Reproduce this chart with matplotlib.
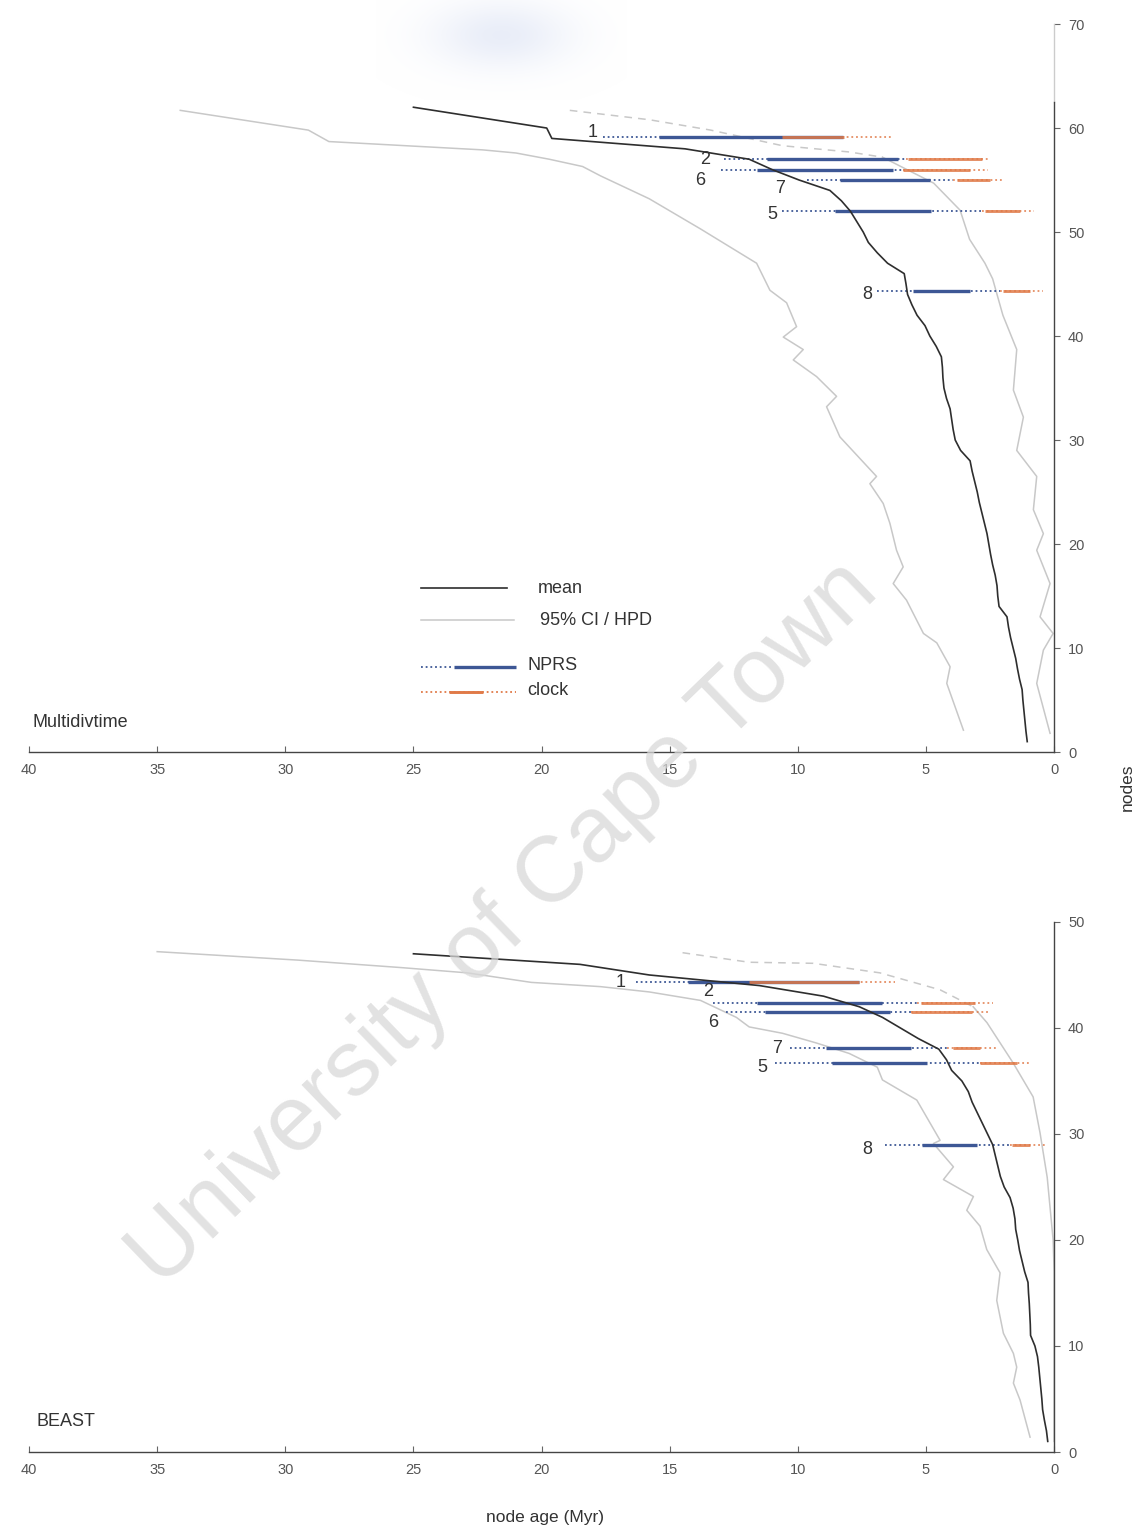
import matplotlib
matplotlib.use("Agg")
import matplotlib.pyplot as plt
import numpy as np

plt.rcParams["font.family"] = ["Liberation Sans", "DejaVu Sans"]

# mean node age (Myr) for node rank 1..N
mean_top = [1.05, 1.10, 1.14, 1.18, 1.22, 1.25, 1.35, 1.43, 1.50, 1.60,
            1.70, 1.78, 1.84, 2.15, 2.20, 2.23, 2.30, 2.40, 2.48, 2.55,
            2.62, 2.72, 2.82, 2.92, 3.00, 3.10, 3.20, 3.28, 3.65, 3.86,
            3.94, 4.00, 4.06, 4.20, 4.30, 4.34, 4.36, 4.40, 4.60, 4.85,
            5.04, 5.35, 5.55, 5.72, 5.78, 5.85, 6.50, 6.90, 7.25, 7.45,
            7.70, 7.95, 8.30, 8.75, 9.95, 11.0, 11.9, 14.4, 19.6, 19.8,
            22.4, 25.0]
mean_bot = [0.25, 0.30, 0.38, 0.45, 0.48, 0.52, 0.56, 0.60, 0.65, 0.75,
            0.92, 0.93, 0.95, 0.97, 1.00, 1.02, 1.15, 1.25, 1.35, 1.42,
            1.50, 1.53, 1.60, 1.72, 1.95, 2.10, 2.20, 2.30, 2.40, 2.60,
            2.80, 3.00, 3.20, 3.35, 3.60, 4.00, 4.20, 4.50, 5.30, 6.00,
            6.70, 7.60, 9.00, 11.5, 15.8, 18.5, 25.0]

# 95% CI / HPD bounds as (age, node) vertices
ci_old_top_age = [34.1, 29.1, 28.3, 22.3, 21.0, 19.7, 18.4, 17.7, 15.8, 13.8,
                  11.61, 11.09, 10.44, 10.05, 10.57, 9.79, 10.18, 9.27, 8.49, 8.88,
                  8.36, 6.93, 7.19, 6.67, 6.41, 6.15, 5.89, 6.28, 5.76, 5.10,
                  4.58, 4.06, 4.19, 3.54]
ci_old_top_node = [61.7, 59.8, 58.7, 57.9, 57.6, 57.0, 56.3, 55.4, 53.2, 50.3,
                   47.0, 44.4, 43.2, 40.9, 39.9, 38.7, 37.7, 36.1, 34.2, 33.2,
                   30.3, 26.5, 25.8, 23.9, 22.0, 19.4, 17.8, 16.2, 14.6, 11.4,
                   10.5, 8.2, 6.6, 2.1]
ci_young_top_age = [18.9, 15.8, 13.4, 10.6, 8.0, 6.7, 4.7, 3.67, 3.3, 2.7,
                    2.4, 2.0, 1.46, 1.59, 1.2, 1.46, 0.68, 0.81, 0.42, 0.68,
                    0.16, 0.55, 0.04, 0.42, 0.68, 0.16]
ci_young_top_node = [61.7, 60.8, 59.8, 58.3, 57.7, 57.2, 54.7, 52.1, 49.3, 47.0,
                     45.5, 42.0, 38.7, 34.8, 32.2, 29.0, 26.5, 23.3, 21.0, 19.4,
                     16.2, 13.0, 11.4, 9.8, 6.6, 1.8]
ci_old_bot_age = [35.0, 29.5, 25.5, 22.9, 20.4, 17.7, 15.8, 13.8, 12.4, 11.9,
                  10.6, 9.3, 8.0, 6.9, 6.7, 5.36, 4.45, 4.71, 3.93, 4.32,
                  3.15, 3.41, 2.89, 2.63, 2.11, 2.24, 1.98, 1.59, 1.46, 1.59,
                  1.33, 0.94]
ci_old_bot_node = [47.2, 46.4, 45.7, 45.2, 44.3, 43.9, 43.4, 42.6, 41.0, 40.1,
                   39.5, 38.6, 37.6, 36.3, 35.1, 33.2, 29.4, 29.1, 26.9, 25.7,
                   24.1, 22.8, 21.3, 19.1, 16.9, 14.3, 11.2, 9.3, 8.0, 6.5,
                   4.9, 1.4]
ci_young_bot_age = [14.5, 11.9, 9.4, 6.8, 4.45, 3.16, 2.62, 1.6, 0.82, 0.55,
                    0.27, 0.04, 0.0, 0.0]
ci_young_bot_node = [47.1, 46.2, 46.1, 45.2, 43.6, 42.0, 40.5, 36.7, 33.5, 30.1,
                     25.9, 20.0, 17.0, 1.0]
n_dashed_top = 6   # leading vertices of the young bound drawn dashed
n_dashed_bot = 6

# calibration nodes: [outer old, inner old, inner young, outer young] ages
node_ids = ["1", "2", "6", "7", "5", "8"]
bar_node_top = [59.1, 57.0, 56.0, 55.0, 52.0, 44.3]
nprs_top = [[17.6, 15.4, 8.25, 8.25], [12.9, 11.2, 6.1, 5.8],
            [13.0, 11.6, 6.3, 5.9], [9.65, 8.35, 4.85, 3.95],
            [10.6, 8.55, 4.8, 2.8], [6.9, 5.5, 3.3, 2.1]]
clock_top = [[12.5, 10.6, 8.2, 6.3], [5.8, 5.7, 2.8, 2.5],
             [5.9, 5.9, 3.3, 2.6], [3.95, 3.8, 2.5, 2.0],
             [2.8, 2.7, 1.35, 0.8], [2.1, 2.0, 0.95, 0.45]]
bar_node_bot = [44.3, 42.4, 41.5, 38.1, 36.7, 29.0]
nprs_bot = [[16.3, 14.3, 7.6, 7.6], [13.3, 11.6, 6.7, 5.35],
            [12.8, 11.3, 6.4, 5.6], [10.3, 8.9, 5.6, 4.2],
            [10.9, 8.67, 4.96, 2.89], [6.6, 5.16, 3.0, 1.72]]
clock_bot = [[12.5, 11.9, 7.6, 6.2], [5.35, 5.2, 3.1, 2.4],
             [5.6, 5.6, 3.2, 2.5], [4.2, 3.95, 2.9, 2.2],
             [2.89, 2.89, 1.45, 0.94], [1.72, 1.64, 0.94, 0.27]]

# where the node numbers sit (age, node)
label_pos_top = [(18.0, 59.6), (13.6, 57.0), (13.8, 55.0), (10.7, 54.2), (11.0, 51.7), (7.3, 44.0)]
label_pos_bot = [(16.9, 44.3), (13.5, 43.4), (13.3, 40.5), (10.8, 38.1), (11.4, 36.3), (7.3, 28.5)]

MEAN_C = "#2e2e2e"
CI_C = "#c8c8c8"
NPRS_C = "#3d5795"
CLOCK_C = "#e07a48"
TICK_C = "#555555"


def interval(ax, y, v, color, lw, alpha=1.0):
    ax.plot([v[0], v[3]], [y, y], color=color, lw=1.3, ls=(0, (1, 1.6)), alpha=alpha, zorder=4)
    ax.plot([v[1], v[2]], [y, y], color=color, lw=lw, solid_capstyle="butt", alpha=alpha, zorder=5)


def panel(ax, mean, ci_old, ci_young, n_dash, bar_nodes, nprs, clock, label_pos, ymax):
    ax.plot(ci_old[0], ci_old[1], color=CI_C, lw=1.1, zorder=2)
    ya, yn = ci_young
    ax.plot(ya[:n_dash], yn[:n_dash], color=CI_C, lw=1.1, ls=(0, (5, 4)), zorder=2)
    ax.plot(ya[n_dash - 1:], yn[n_dash - 1:], color=CI_C, lw=1.1, zorder=2)
    ax.plot(mean, np.arange(1, len(mean) + 1), color=MEAN_C, lw=1.2, zorder=6)
    for y, a, b in zip(bar_nodes, nprs, clock):
        interval(ax, y, a, NPRS_C, 2.4)
        interval(ax, y, b, CLOCK_C, 2.1, alpha=0.85)
    for name, (x, y) in zip(node_ids, label_pos):
        ax.text(x, y, name, fontsize=13, color="#333333", ha="center", va="center", zorder=7)

    ax.set_xlim(40, 0)
    ax.set_ylim(0, ymax)
    ax.set_xticks(np.arange(40, -1, -5))
    ax.set_yticks(np.arange(0, ymax + 1, 10))
    for s in ("top", "left"):
        ax.spines[s].set_visible(False)
    for s in ("bottom", "right"):
        ax.spines[s].set_color("#444444")
        ax.spines[s].set_linewidth(1.0)
    ax.yaxis.tick_right()
    ax.tick_params(axis="x", direction="in", length=4, width=0.8, colors="#666666",
                   labelcolor=TICK_C, labelsize=10.5, pad=8)
    ax.tick_params(axis="y", direction="out", length=4, width=0.8, colors="#666666",
                   labelcolor=TICK_C, labelsize=10.5, pad=6)
    ax.set_facecolor("none")


fig = plt.figure(figsize=(11.39, 15.31), dpi=100)

# faint blue haze near the top edge
haze = fig.add_axes([0.33, 0.935, 0.22, 0.065], zorder=0)
gx, gy = np.meshgrid(np.linspace(-1, 1, 200), np.linspace(-1, 1, 80))
rgba = np.zeros((80, 200, 4))
rgba[..., 0], rgba[..., 1], rgba[..., 2] = 0.86, 0.89, 0.96
rgba[..., 3] = 0.6 * np.exp(-(gx ** 2 / 0.3 + (gy + 0.3) ** 2 / 0.45))
haze.imshow(rgba, aspect="auto")
haze.axis("off")

ax1 = fig.add_axes([0.0255, 0.5088, 0.9, 0.4755], zorder=1)
ax2 = fig.add_axes([0.0255, 0.0516, 0.9, 0.3462], zorder=1)

panel(ax1, mean_top, (ci_old_top_age, ci_old_top_node), (ci_young_top_age, ci_young_top_node),
      n_dashed_top, bar_node_top, nprs_top, clock_top, label_pos_top, 70)
panel(ax2, mean_bot, (ci_old_bot_age, ci_old_bot_node), (ci_young_bot_age, ci_young_bot_node),
      n_dashed_bot, bar_node_bot, nprs_bot, clock_bot, label_pos_bot, 50)

# upper part of the node axis is only faintly printed
ax1.spines["right"].set_bounds(0, 62.5)
ax1.plot([1, 1], [62.5 / 70, 1], transform=ax1.transAxes, color="#cccccc", lw=1.0, clip_on=False)

ax1.text(0.003, 0.041, "Multidivtime", transform=ax1.transAxes, fontsize=13, color="#333333", va="center")
ax2.text(0.007, 0.057, "BEAST", transform=ax2.transAxes, fontsize=13, color="#333333", va="center")

# hand-drawn key
t = ax1.transAxes
ax1.plot([0.382, 0.466], [0.225, 0.225], transform=t, color=MEAN_C, lw=1.2)
ax1.text(0.496, 0.225, "mean", transform=t, fontsize=13, color="#333333", va="center")
ax1.plot([0.382, 0.473], [0.181, 0.181], transform=t, color=CI_C, lw=1.1)
ax1.text(0.498, 0.181, "95% CI / HPD", transform=t, fontsize=13, color="#333333", va="center")
ax1.plot([0.382, 0.413], [0.117, 0.117], transform=t, color=NPRS_C, lw=1.3, ls=(0, (1, 1.6)))
ax1.plot([0.415, 0.475], [0.117, 0.117], transform=t, color=NPRS_C, lw=2.4, solid_capstyle="butt")
ax1.text(0.486, 0.119, "NPRS", transform=t, fontsize=13, color="#333333", va="center")
ax1.plot([0.382, 0.475], [0.083, 0.083], transform=t, color=CLOCK_C, lw=1.3, ls=(0, (1, 1.6)))
ax1.plot([0.41, 0.443], [0.083, 0.083], transform=t, color=CLOCK_C, lw=2.1, solid_capstyle="butt")
ax1.text(0.486, 0.085, "clock", transform=t, fontsize=13, color="#333333", va="center")

fig.text(0.9895, 0.486, "nodes", rotation=90, fontsize=12.5, color="#333333", ha="center", va="center")
fig.text(0.4785, 0.0085, "node age (Myr)", fontsize=12.5, color="#333333", ha="center", va="center")

fig.text(0.443, 0.396, "University of Cape Town", rotation=44, fontsize=67, color="#d8d8d8",
         alpha=0.75, ha="center", va="center", rotation_mode="anchor", zorder=10)

fig.savefig("out.png", dpi=100, facecolor="white")
